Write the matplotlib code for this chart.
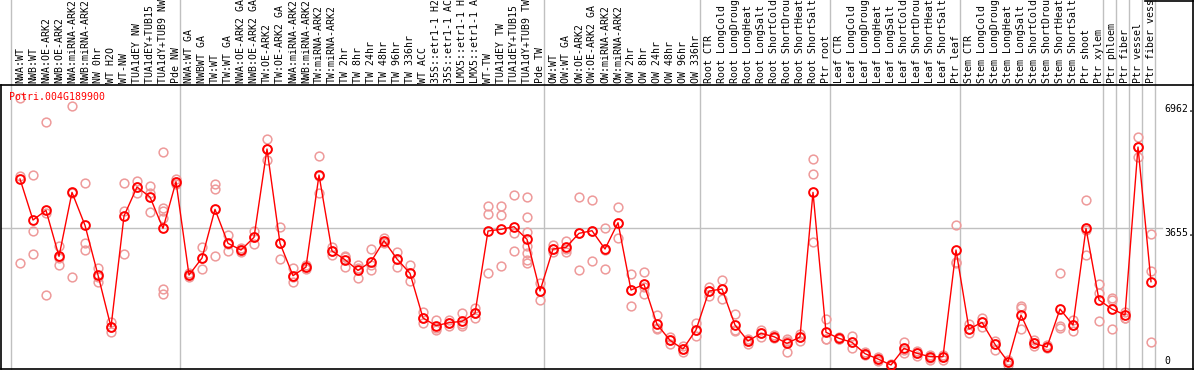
import numpy as np
import matplotlib
matplotlib.use("Agg")
import matplotlib.pyplot as plt
from matplotlib.lines import Line2D

# sample names as printed along the top
labels = ["NWA:WT", "NWB:WT", "NWA:OE-ARK2", "NWB:OE-ARK2", "NWA:miRNA-ARK2", "NWB:miRNA-ARK2",
          "NW 0hr", "WT H2O", "WT-NW", "TUA1dEY NW", "TUA1dEY+TUB15 NW", "TUA1dY+TUB9 NW", "Pde NW",
          "NWA:WT GA", "NWBWT GA", "TW:WT", "TW:WT GA", "NWA:OE-ARK2 GA", "NWB:OE-ARK2 GA",
          "TW:OE-ARK2", "TW:OE-ARK2 GA", "NWA:miRNA-ARK2", "NWB:miRNA-ARK2", "TW:miRNA-ARK2",
          "TW:miRNA-ARK2", "TW 2hr", "TW 8hr", "TW 24hr", "TW 48hr", "TW 96hr", "TW 336hr", "WT ACC",
          "35S::etr1-1 H2O", "35S::etr1-1 ACC", "LMX5::etr1-1 H2O", "LMX5::etr1-1 ACC", "WT-TW",
          "TUA1dEY TW", "TUA1dEY+TUB15 TW", "TUA1dY+TUB9 TW", "Pde TW",
          "OW:WT", "OW:WT GA", "OW:OE-ARK2", "OW:OE-ARK2 GA", "OW:miRNA-ARK2", "OW:miRNA-ARK2",
          "OW 2hr", "OW 8hr", "OW 24hr", "OW 48hr", "OW 96hr", "OW 336hr",
          "Root CTR", "Root LongCold", "Root LongDrought", "Root LongHeat", "Root LongSalt",
          "Root ShortCold", "Root ShortDrought", "Root ShortHeat", "Root ShortSalt", "Ptr root",
          "Leaf CTR", "Leaf LongCold", "Leaf LongDrought", "Leaf LongHeat", "Leaf LongSalt",
          "Leaf ShortCold", "Leaf ShortDrought", "Leaf ShortHeat", "Leaf ShortSalt", "Ptr leaf",
          "Stem CTR", "Stem LongCold", "Stem LongDrought", "Stem LongHeat", "Stem LongSalt",
          "Stem ShortCold", "Stem ShortDrought", "Stem ShortHeat", "Stem ShortSalt", "Ptr shoot",
          "Ptr xylem", "Ptr phloem", "Ptr fiber", "Ptr vessel", "Ptr fiber vessel"]

# mean expression per sample (the red line)
means = [4965, 3874, 4132, 2908, 4610, 3732, 2411, 1028, 3981, 4752,
         4486, 3652, 4894, 2411, 2863, 4158, 3254, 3076, 3413, 5763,
         3254, 2394, 2624, 5071, 3050, 2819, 2535, 2766, 3325, 2837,
         2456, 1268, 1064, 1143, 1179, 1392, 3582, 3626, 3697, 3360,
         1986, 3103, 3147, 3520, 3590, 3103, 3803, 2012, 2163, 1099,
         674, 443, 949, 1986, 2039, 1082, 656, 860, 771, 594,
         762, 4610, 887, 727, 621, 319, 177, 18, 461, 328,
         239, 239, 3076, 975, 1152, 567, 106, 1347, 594, 496,
         1507, 1082, 3652, 1746, 1507, 1347, 5816, 2234]

# individual replicates (pale circles)
reps = [
    [5053, 2722, 7110], [5071, 3582, 2961], [6472, 4052, 1879], [3183, 2872, 2669],
    [6898, 4584, 2349], [4850, 3263, 3076], [2589, 2367, 2216], [1152, 1028, 887],
    [4850, 4114, 2961], [4912, 4761, 4584], [4770, 4601, 4087],
    [5674, 4202, 4114, 3919, 2039, 1897], [4965, 4894, 4823], [2456, 2411, 2367],
    [3147, 2863, 2571], [4823, 4699, 2926], [3475, 3227, 3050], [3121, 3076, 3032],
    [3582, 3413, 3227], [6029, 5763, 5470], [3679, 3254, 2837], [2589, 2367, 2234],
    [2677, 2624, 2571], [5585, 5045, 4584], [3165, 3050, 2943], [2899, 2926, 2633],
    [2677, 2589, 2340], [3103, 2690, 2544], [3387, 3298, 3254], [3032, 2837, 2633],
    [2669, 2456, 2252], [1418, 1268, 1126], [1206, 993, 949], [1206, 1143, 1064],
    [1392, 1064, 1099], [1525, 1392, 1277], [4247, 4025, 2456], [4247, 4007, 2642],
    [4539, 3520, 3050], [4486, 3945, 3546, 3192, 2988, 2810, 2722], [2190, 1986, 1746],
    [3209, 3103, 3014], [3316, 3103, 3032], [4486, 3520, 2544], [4406, 3590, 2784],
    [3652, 3076, 2571], [4211, 3803, 3387], [2429, 2012, 1596], [2482, 2101, 1897],
    [1347, 993, 975], [771, 674, 567], [532, 443, 372], [1126, 949, 789],
    [2101, 1986, 1861], [2278, 2039, 1773], [1365, 949, 922], [709, 656, 567],
    [949, 860, 771], [816, 771, 745], [709, 656, 355], [833, 762, 656],
    [5497, 5089, 3280], [1232, 710, 720], [771, 709, 709], [798, 621, 461],
    [372, 319, 284], [239, 177, 124], [45, 10, 0], [638, 420, 330], [390, 328, 266],
    [284, 213, 151], [284, 239, 151], [3741, 2748, 2722], [1099, 966, 860],
    [1270, 1152, 1040], [656, 567, 416], [151, 106, 18], [1596, 1543, 975],
    [683, 594, 532], [550, 496, 461], [2456, 1064, 1010], [1214, 1082, 922],
    [4406, 3607, 2943], [2163, 1923, 1188], [1791, 1746, 975], [1436, 1277, 1259],
    [6082, 5807, 5559], [3493, 2518, 638],
]

# index of last sample in each group (gray separators drawn after them)
group_ends = [-1, 12, 40, 52, 62, 72, 83, 84, 85, 86, 87]
ytick_vals = [6962, 3655, 0]
ytick_text = ["6962.", "3655.", "0"]
gene = "Potri.004G189900"

W, H = 1194, 370
fig = plt.figure(figsize=(W / 100, H / 100), dpi=100)
top_px, bot_px = 85, 369
ax = fig.add_axes([1 / W, 1 - bot_px / H, (W - 2) / W, (bot_px - top_px) / H])

# pixel x = 20 + 13*idx ; value scale 26.6 units per pixel, 0 at y=365.7
ax.set_xlim((1 - 20) / 13, (W - 1 - 20) / 13)
ax.set_ylim((365.67 - bot_px) * 26.6, (365.67 - top_px) * 26.6)
for s in ["right"]:
    ax.spines[s].set_visible(False)
for s in ["left", "top", "bottom"]:
    ax.spines[s].set_color("black")
    ax.spines[s].set_linewidth(1.2)
ax.set_xticks([])
ax.set_yticks([])

grey = "#c0c0c0"
frac_top = bot_px / (bot_px - top_px)
for g in group_ends:
    ax.axvline(g + 4 / 13, ymin=0, ymax=frac_top, color=grey, lw=1, clip_on=False, zorder=1)
ax.plot([ax.get_xlim()[0], (1162 - 20) / 13], [3655, 3655], color=grey, lw=1, zorder=1)

# right border and top-right cap
fig.add_artist(Line2D([(W - 1) / W] * 2, [0, 1], color="black", lw=1.2))
fig.add_artist(Line2D([1145 / W, 1], [1 - 0.8 / H] * 2, color="black", lw=1.2))

x = np.arange(len(means))
rx = np.concatenate([[i] * len(r) for i, r in enumerate(reps)])
ry = np.concatenate(reps)
ax.plot(rx, ry, "o", ms=6.3, mfc="none", mec="#ee9a9a", mew=1.1, zorder=2)
ax.plot(x, means, "-", color="red", lw=1, zorder=3)
ax.plot(x, means, "o", ms=6.3, mfc="none", mec="red", mew=1.4, zorder=4)

mono = "DejaVu Sans Mono"
for i, lab in enumerate(labels):
    fig.text((20 + 13 * i) / W, 1 - 83 / H, lab, rotation=90, ha="center", va="bottom",
             fontsize=7.1, family=mono, color="black")

xr = (1164 - 20) / 13
for v, t in zip(ytick_vals, ytick_text):
    ax.text(xr, v, t, ha="left", va="bottom" if v == 0 else "top",
            fontsize=7.1, family=mono, color="black")

fig.text(9 / W, 1 - 97 / H, gene, ha="left", va="center", fontsize=7.1, family=mono, color="red")

fig.savefig("out.png", dpi=100)
